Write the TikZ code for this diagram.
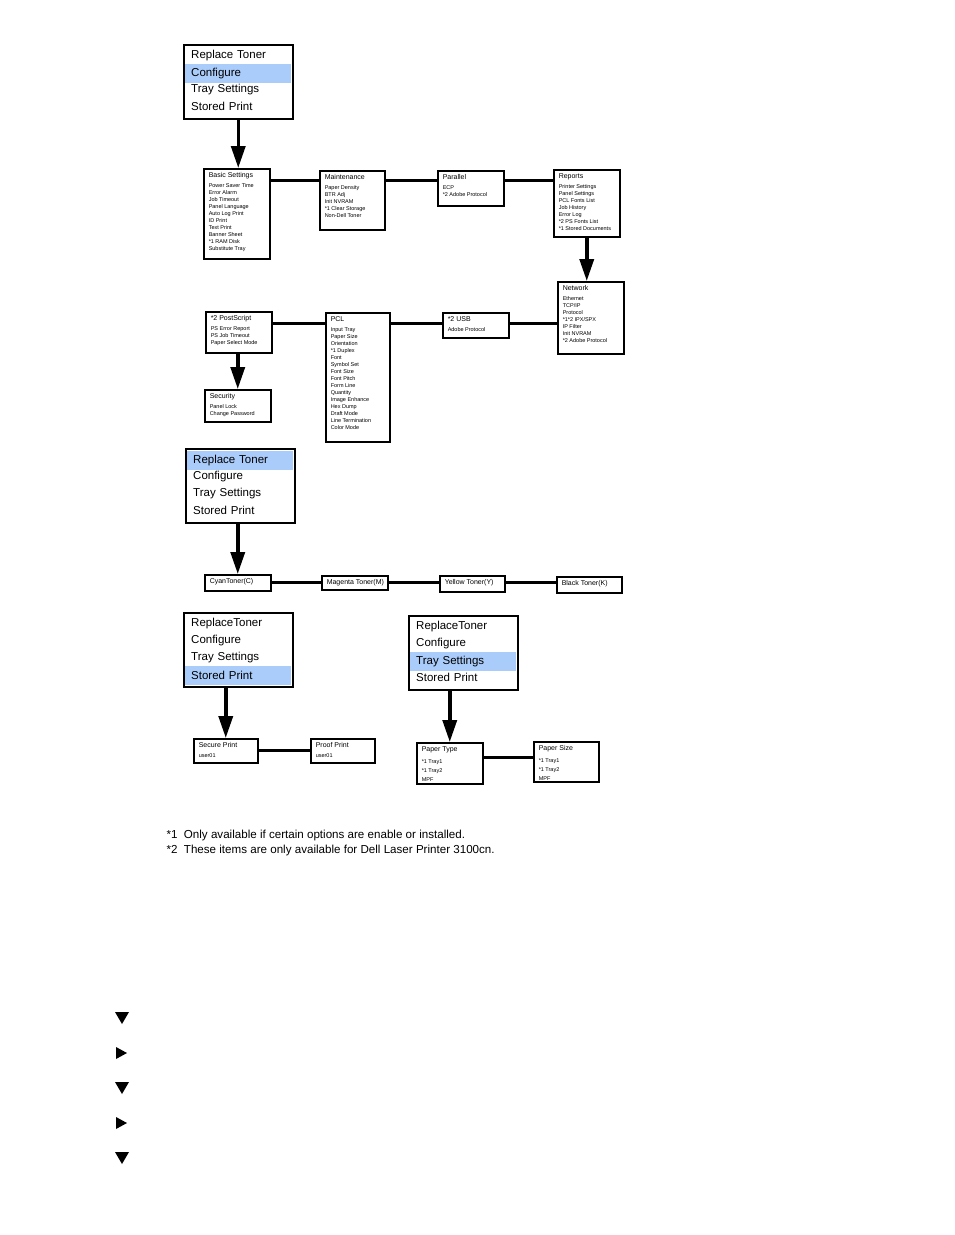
\documentclass[tikz,border=0pt]{standalone}
\usepackage{fontspec}
\setmainfont{Liberation Sans}
\usetikzlibrary{arrows.meta,positioning,calc}
\definecolor{menublue}{RGB}{170,204,250}
\tikzstyle{menuframe} = [rectangle, draw=black, line width=1.5pt, minimum width=109pt, minimum height=74pt, anchor=north west, inner sep=0pt]
\tikzstyle{menurow} = [rectangle, minimum width=107pt, minimum height=17pt, text width=93pt, inner xsep=7pt, inner ysep=0pt, align=left, anchor=north west, font=\fontsize{11.5}{13}\selectfont]
\tikzstyle{menuhigh} = [menurow, fill=menublue, minimum height=19pt]
\tikzstyle{subbox} = [rectangle, draw=black, line width=1.5pt, inner sep=0pt, anchor=north west]
\tikzstyle{link} = [line width=3pt]
\tikzstyle{arrow} = [line width=3.5pt, -{Triangle[width=14pt,length=22pt]}]
\tikzstyle{note} = [anchor=west, font=\fontsize{11.6}{13}\selectfont]

% box text: [item spacing]{width}{height}{title}{items}
\newcommand{\subtext}[5][7]{\parbox[t][#3pt][t]{#2pt}{\raggedright\leftskip=5pt\vspace*{4pt}%
    {\fontsize{7}{7}\selectfont #4\par}\vspace{2.5pt}%
    \fontsize{5.5}{#1}\selectfont #5\par}}

% menu: name, x, y, highlighted row, first entry
\newcommand{\menubox}[5]{%
  \foreach \entry [count=\i] in {#5, Configure, Tray Settings, Stored Print} {
    \ifnum\i=#4 \def\rowstyle{menuhigh}\else\def\rowstyle{menurow}\fi
    \node (#1-\i) [\rowstyle] at ($(#2,#3)+(1,{2.5+17*(\i-1)})$) {\entry};
  }
  \node (#1) [menuframe] at (#2,#3) {};
}

\begin{document}
\begin{tikzpicture}[x=1pt, y=-1pt]
\path[fill=white] (0,0) rectangle (954,1235);
\useasboundingbox (0,0) rectangle (954,1235);

% Configure
\menubox{menuA}{183}{44}{2}{Replace Toner}
\node (basic) [subbox] at (203,168) {\subtext{66}{90}{Basic Settings}{Power Saver Time\\Error Alarm\\Job Timeout\\Panel Language\\Auto Log Print\\ID Print\\Text Print\\Banner Sheet\\{}*1 RAM Disk\\Substitute Tray}};
\node (maint) [subbox] at (319,170) {\subtext{65}{59}{Maintenance}{Paper Density\\BTR Adj\\Init NVRAM\\{}*1 Clear Storage\\Non-Dell Toner}};
\node (parallel) [subbox] at (437,170) {\subtext{66}{35}{Parallel}{ECP\\{}*2 Adobe Protocol}};
\node (reports) [subbox] at (553,169) {\subtext{66}{67}{Reports}{Printer Settings\\Panel Settings\\PCL Fonts List\\Job History\\Error Log\\{}*2 PS Fonts List\\{}*1 Stored Documents}};
\node (network) [subbox] at (557,281) {\subtext{66}{72}{Network}{Ethernet\\TCP/IP\\Protocol\\{}*1*2 IPX/SPX\\IP Filter\\Init NVRAM\\{}*2 Adobe Protocol}};
\node (postscript) [subbox] at (205,311) {\subtext{66}{41}{*2 PostScript}{PS Error Report\\PS Job Timeout\\Paper Select Mode}};
\node (security) [subbox] at (204,389) {\subtext{66}{32}{Security}{Panel Lock\\Change Password}};
\node (pcl) [subbox] at (325,312) {\subtext{64}{129}{PCL}{Input Tray\\Paper Size\\Orientation\\{}*1 Duplex\\Font\\Symbol Set\\Font Size\\Font Pitch\\Form Line\\Quantity\\Image Enhance\\Hex Dump\\Draft Mode\\Line Termination\\Color Mode}};
\node (usb) [subbox] at (442,312) {\subtext{66}{25}{*2 USB}{Adobe Protocol}};

\coordinate (row1) at (0,180);
\coordinate (row2) at (0,323);
\draw [arrow] (menuA.south) -- (menuA.south |- basic.north);
\draw [link] (basic.east |- row1) -- (maint.west |- row1);
\draw [link] (maint.east |- row1) -- (parallel.west |- row1);
\draw [link] (parallel.east |- row1) -- (reports.west |- row1);
\draw [arrow] (reports.south) -- (reports.south |- network.north);
\draw [link] (network.west |- row2) -- (usb.east |- row2);
\draw [link] (usb.west |- row2) -- (pcl.east |- row2);
\draw [link] (pcl.west |- row2) -- (postscript.east |- row2);
\draw [arrow] (security.north |- postscript.south) -- (security.north);

% Replace Toner
\menubox{menuB}{185}{448}{1}{Replace Toner}
\node (cyan) [subbox] at (204,574) {\subtext{66}{16}{CyanToner(C)}{}};
\node (magenta) [subbox] at (321,575) {\subtext{66}{14}{Magenta Toner(M)}{}};
\node (yellow) [subbox] at (439,575) {\subtext{65}{16}{Yellow Toner(Y)}{}};
\node (black) [subbox] at (556,576) {\subtext{65}{16}{Black Toner(K)}{}};

\coordinate (row3) at (0,582);
\draw [arrow] (cyan.north |- menuB.south) -- (cyan.north);
\draw [link] (cyan.east |- row3) -- (magenta.west |- row3);
\draw [link] (magenta.east |- row3) -- (yellow.west |- row3);
\draw [link] (yellow.east |- row3) -- (black.west |- row3);

% Stored Print
\menubox{menuC}{183}{612}{4}{ReplaceToner}
\node (secure) [subbox] at (193,738) {\subtext{64}{24}{Secure Print}{user01}};
\node (proof) [subbox] at (310,738) {\subtext{64}{24}{Proof Print}{user01}};

\coordinate (row4) at (0,750);
\draw [arrow] (secure.north |- menuC.south) -- (secure.north);
\draw [link] (secure.east |- row4) -- (proof.west |- row4);

% Tray Settings
\menubox{menuD}{408}{615}{3}{ReplaceToner}
\node (ptype) [subbox] at (416,742) {\subtext[9]{66}{41}{Paper Type}{{}*1 Tray1\\{}*1 Tray2\\MPF}};
\node (psize) [subbox] at (533,741) {\subtext[9]{65}{40}{Paper Size}{{}*1 Tray1\\{}*1 Tray2\\MPF}};

\coordinate (row5) at (0,757);
\draw [arrow] (ptype.north |- menuD.south) -- (ptype.north);
\draw [link] (ptype.east |- row5) -- (psize.west |- row5);

% notes
\node (note1) [note] at (163,835) {*1\ \ Only available if certain options are enable or installed.};
\node (note2) [note] at (163,850) {*2\ \ These items are only available for Dell Laser Printer 3100cn.};

% expand marks
\fill (115,1012) -- (129,1012) -- (122,1024) -- cycle;
\fill (116,1047) -- (116,1059) -- (127,1053) -- cycle;
\fill (115,1082) -- (129,1082) -- (122,1094) -- cycle;
\fill (116,1117) -- (116,1129) -- (127,1123) -- cycle;
\fill (115,1152) -- (129,1152) -- (122,1164) -- cycle;
\end{tikzpicture}
\end{document}
